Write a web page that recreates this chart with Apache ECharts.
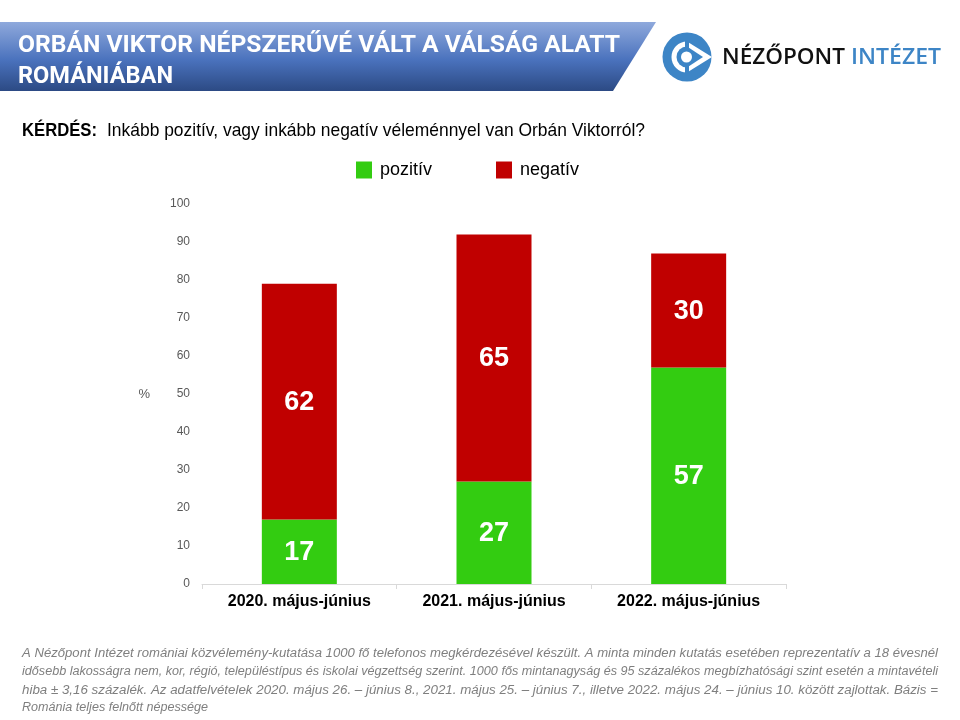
<!DOCTYPE html>
<html><head><meta charset="utf-8">
<style>html,body{margin:0;padding:0;background:#fff}#c{width:960px;height:720px}</style>
<script src="https://cdn.jsdelivr.net/npm/echarts@6/dist/echarts.min.js"></script>
</head><body><div id="c"></div>
<script>
const categories = ['2020. május-június', '2021. május-június', '2022. május-június'];
const positive = [17, 27, 57];
const negative = [62, 65, 30];
const seriesNames = ['pozitív', 'negatív'];
const titleLines = ['ORBÁN VIKTOR NÉPSZERŰVÉ VÁLT A VÁLSÁG ALATT', 'ROMÁNIÁBAN'];
const questionLabel = 'KÉRDÉS:';
const questionText = 'Inkább pozitív, vagy inkább negatív véleménnyel van Orbán Viktorról?';
const footnoteLines = [
  'A Nézőpont Intézet romániai közvélemény-kutatása 1000 fő telefonos megkérdezésével készült. A minta minden kutatás esetében reprezentatív a 18 évesnél',
  'idősebb lakosságra nem, kor, régió, településtípus és iskolai végzettség szerint. 1000 fős mintanagyság és 95 százalékos megbízhatósági szint esetén a mintavételi',
  'hiba ± 3,16 százalék. Az adatfelvételek 2020. május 26. – június 8., 2021. május 25. – június 7., illetve 2022. május 24. – június 10. között zajlottak. Bázis =',
  'Románia teljes felnőtt népessége'
];
const ctx = document.createElement('canvas').getContext('2d');
function fit(str, font, x, y, w, fill) {
  ctx.font = font;
  const n = ctx.measureText(str).width;
  return { type: 'text', x: x, y: y, scaleX: w / n, silent: true,
    style: { text: str, font: font, fill: fill, verticalAlign: 'middle' } };
}
const SANS = '"Liberation Sans", Arial, sans-serif';
const chart = echarts.init(document.getElementById('c'), null, { renderer: 'canvas' });
const blue = '#3d85c6';
chart.setOption({
  animation: false,
  backgroundColor: '#fff',
  legend: {
    left: 356, top: 161, padding: 0, itemWidth: 16, itemHeight: 17, itemGap: 64, icon: 'rect',
    textStyle: { fontFamily: SANS, fontSize: 18, color: '#000', padding: [0, 0, 0, 3] },
    data: seriesNames
  },
  grid: { left: 202, right: 174, top: 204, bottom: 136 },
  xAxis: {
    type: 'category', data: categories,
    axisLine: { lineStyle: { color: '#d9d9d9', width: 1 } },
    axisTick: { show: true, length: 5, lineStyle: { color: '#d9d9d9' } },
    axisLabel: { fontFamily: SANS, fontWeight: 'bold', fontSize: 16, color: '#000', margin: 10 }
  },
  yAxis: {
    type: 'value', min: 0, max: 100, interval: 10,
    name: '%', nameLocation: 'middle', nameRotate: 0, nameGap: 52,
    nameTextStyle: { fontFamily: SANS, fontSize: 13, color: '#595959', padding: [6, 0, 0, 0] },
    axisLine: { show: false }, axisTick: { show: false }, splitLine: { show: false },
    axisLabel: { fontFamily: SANS, fontSize: 12, color: '#595959', margin: 12, padding: [2, 0, 0, 0] }
  },
  series: [
    { name: seriesNames[0], type: 'bar', stack: 's', barWidth: 75, data: positive,
      itemStyle: { color: '#33cc11' },
      label: { show: true, position: 'inside', offset: [0, 1], fontFamily: SANS, fontWeight: 'bold', fontSize: 27, color: '#fff' } },
    { name: seriesNames[1], type: 'bar', stack: 's', barWidth: 75, data: negative,
      itemStyle: { color: '#c00000' },
      label: { show: true, position: 'inside', offset: [0, 1], fontFamily: SANS, fontWeight: 'bold', fontSize: 27, color: '#fff' } }
  ],
  graphic: [
    { type: 'polygon', silent: true, shape: { points: [[0, 22], [656, 22], [613, 91], [0, 91]] },
      style: { fill: new echarts.graphic.LinearGradient(0, 0, 0, 1, [
        { offset: 0, color: '#8fa9dc' }, { offset: 0.55, color: '#4a72bd' }, { offset: 1, color: '#2c4a84' }]) } },
    fit(titleLines[0], 'bold 24px Roboto, sans-serif', 18, 46, 602, '#fff'),
    fit(titleLines[1], 'bold 24px Roboto, sans-serif', 18, 77, 155, '#fff'),
    { type: 'circle', silent: true, shape: { cx: 687, cy: 57, r: 24.5 }, style: { fill: blue } },
    { type: 'sector', silent: true, shape: { cx: 687, cy: 57, r: 15.5, r0: 0, startAngle: Math.PI / 2, endAngle: Math.PI * 1.5 }, style: { fill: '#fff' } },
    { type: 'polygon', silent: true, shape: { points: [[687, 41.5], [712, 57], [687, 72.5]] }, style: { fill: '#fff' } },
    { type: 'sector', silent: true, shape: { cx: 687, cy: 57, r: 10.5, r0: 0, startAngle: Math.PI / 2, endAngle: Math.PI * 1.5 }, style: { fill: blue } },
    { type: 'polygon', silent: true, shape: { points: [[687, 46.5], [703, 57], [687, 67.5]] }, style: { fill: blue } },
    { type: 'rect', silent: true, shape: { x: 685, y: 38, width: 4, height: 10 }, style: { fill: blue } },
    { type: 'rect', silent: true, shape: { x: 685, y: 66, width: 4, height: 10 }, style: { fill: blue } },
    { type: 'circle', silent: true, shape: { cx: 686.5, cy: 57, r: 5.5 }, style: { fill: '#fff' } },
    fit('NÉZŐPONT', '600 21.5px "Open Sans", sans-serif', 722, 58, 123, '#111'),
    fit('INTÉZET', '600 21.5px "Open Sans", sans-serif', 851, 58, 90, blue),
    fit(questionLabel, 'bold 19px ' + SANS, 22, 131, 75, '#000'),
    fit(questionText, '19px ' + SANS, 107, 131, 538, '#000'),
    fit(footnoteLines[0], 'italic 12px ' + SANS, 22, 654, 916, '#7f7f7f'),
    fit(footnoteLines[1], 'italic 12px ' + SANS, 22, 672, 916, '#7f7f7f'),
    fit(footnoteLines[2], 'italic 12px ' + SANS, 22, 691, 916, '#7f7f7f'),
    fit(footnoteLines[3], 'italic 12px ' + SANS, 22, 708, 186, '#7f7f7f')
  ]
});
</script></body></html>
